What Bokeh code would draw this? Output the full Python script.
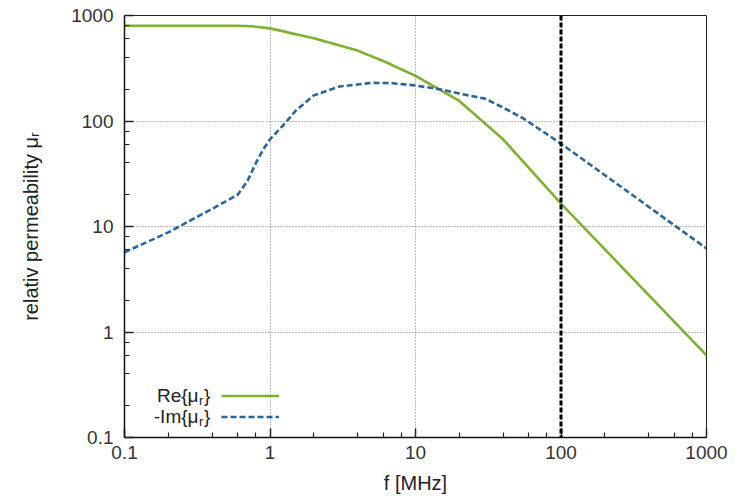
from bokeh.plotting import figure
from bokeh.models import (Range1d, FixedTicker, CustomJSTickFormatter, Span, Label,
                          Legend, LegendItem, ColumnDataSource)
from bokeh.embed import file_html
from bokeh.resources import INLINE

# ---------------- data ----------------
f_re = [0.1, 0.2, 0.4, 0.6, 0.75, 1, 2, 4, 6, 10, 20, 40, 100, 1000]
mu_re = [800, 800, 800, 800, 792, 755, 610, 465, 370, 268, 155, 67, 16.5, 0.6]

f_im = [0.1, 0.2, 0.4, 0.6, 0.7, 0.8, 0.9, 1, 1.25, 1.5, 2, 3, 5, 7, 10, 15, 20, 30, 40, 55, 100, 1000]
mu_im = [5.7, 8.8, 14.7, 20, 27, 40, 54, 67, 93, 125, 175, 212, 230, 228, 217, 199, 182, 163, 134, 106, 61, 6.2]

marker_freq = 100

major_ticks = [0.1, 1, 10, 100, 1000]
minor_ticks = [m * d for d in [0.1, 1, 10, 100] for m in (2, 4, 6, 8)]

x_label = "f [MHz]"
y_label = "relativ permeability \u03bc\u1d63"
sub_r = "r"
legend_names = ["Re{\u03bc", "-Im{\u03bc"]

GREEN = "#80b030"
BLUE = "#2a669c"
FONT = "Liberation Sans"

W, H = 738, 499
L, R, T, B = 124, 32, 15, 62

p = figure(width=W, height=H, x_axis_type="log", y_axis_type="log",
           x_range=Range1d(0.1, 1000), y_range=Range1d(0.1, 1000),
           output_backend="svg", toolbar_location=None,
           min_border_left=L, min_border_right=R, min_border_top=T, min_border_bottom=B)
p.background_fill_color = "white"
p.border_fill_color = "white"
p.outline_line_color = "#222222"
p.outline_line_width = 1

for ax in (p.xaxis[0], p.yaxis[0]):
    ax.ticker = FixedTicker(ticks=major_ticks, minor_ticks=minor_ticks)
    ax.formatter = CustomJSTickFormatter(code="return tick.toString();")
    ax.major_tick_in = 9
    ax.major_tick_out = 0
    ax.minor_tick_in = 5
    ax.minor_tick_out = 0
    ax.major_tick_line_color = "#222222"
    ax.minor_tick_line_color = "#222222"
    ax.major_tick_line_width = 1.5
    ax.minor_tick_line_width = 1.2
    ax.axis_line_color = "#111111"
    ax.axis_line_width = 1.5
    ax.major_label_text_font = FONT
    ax.major_label_text_font_size = "19px"
    ax.major_label_text_color = "#333333"
    ax.axis_label_text_font = FONT
    ax.axis_label_text_font_size = "20px"
    ax.axis_label_text_font_style = "normal"
    ax.axis_label_text_color = "#222222"
p.xaxis.major_label_standoff = 8
p.yaxis.major_label_standoff = 11
p.xaxis.axis_label = x_label
p.yaxis.axis_label = y_label
p.xaxis.axis_label_standoff = 10
p.yaxis.axis_label_standoff = 26

for g in (p.xgrid[0], p.ygrid[0]):
    g.ticker = FixedTicker(ticks=major_ticks)
    g.grid_line_color = "#7a7a7a"
    g.grid_line_dash = "1 2"
    g.grid_line_width = 1

src_re = ColumnDataSource(dict(x=f_re, y=mu_re))
src_im = ColumnDataSource(dict(x=f_im, y=mu_im))
r_re = p.line("x", "y", source=src_re, line_color=GREEN, line_width=2.6)
r_im = p.line("x", "y", source=src_im, line_color=BLUE, line_width=2.6, line_dash="6 3")

p.add_layout(Span(location=marker_freq, dimension="height", line_color="black",
                  line_width=3, line_dash="5 2"))

# legend glyphs (labels drawn separately, to the left)
leg = Legend(items=[LegendItem(label="", renderers=[r_re]),
                    LegendItem(label="", renderers=[r_im])],
             location=(97, 10), orientation="vertical",
             glyph_width=58, glyph_height=21, spacing=0, padding=0, margin=0,
             label_width=0, label_standoff=0, label_text_font_size="1px",
             border_line_color=None, background_fill_alpha=0)
p.add_layout(leg, "center")

def lab(**kw):
    base = dict(x_units="screen", y_units="screen", text_font=FONT,
                text_color="#222222")
    base.update(kw)
    p.add_layout(Label(**base))

# legend texts
for name, ys in zip(legend_names, [42, 21]):
    lab(x=74, y=ys, text=name, text_align="right", text_baseline="middle",
        text_font_size="19px")
    lab(x=74.5, y=ys - 5, text=sub_r, text_align="left", text_baseline="middle",
        text_font_size="13px")
    lab(x=79.5, y=ys, text="}", text_align="left", text_baseline="middle",
        text_font_size="19px")

open("out.html", "w").write(file_html(p, INLINE))
